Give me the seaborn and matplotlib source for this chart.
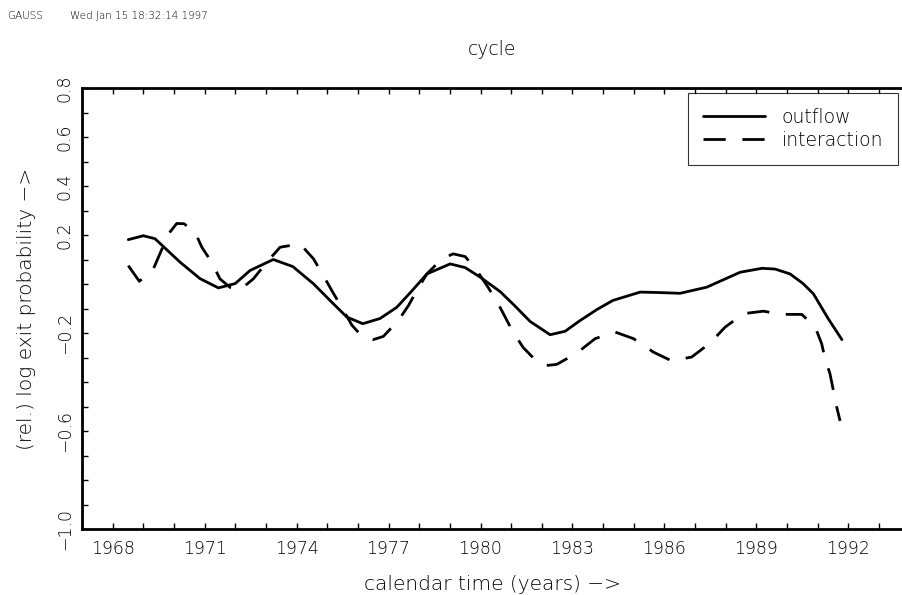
import pandas as pd
import matplotlib
matplotlib.use("Agg")
import matplotlib.pyplot as plt
import seaborn as sns

# outflow series
outflow_year = [1968.51, 1969.00, 1969.38, 1970.20, 1970.85, 1971.45, 1972.00, 1972.48,
                1973.24, 1973.88, 1974.55, 1975.09, 1975.64, 1976.16, 1976.72, 1977.27,
                1977.77, 1978.25, 1979.01, 1979.50, 1979.99, 1980.64, 1981.07, 1981.62,
                1982.27, 1982.76, 1983.25, 1983.80, 1984.32, 1985.21, 1985.86, 1986.51,
                1987.38, 1988.47, 1989.18, 1989.61, 1990.10, 1990.52, 1990.86, 1991.34,
                1991.79]
outflow_val = [0.181, 0.197, 0.185, 0.089, 0.022, -0.016, 0.002, 0.055,
               0.100, 0.071, 0.001, -0.067, -0.135, -0.162, -0.141, -0.095,
               -0.027, 0.041, 0.082, 0.067, 0.028, -0.031, -0.083, -0.153,
               -0.207, -0.193, -0.149, -0.104, -0.067, -0.033, -0.035, -0.038,
               -0.013, 0.048, 0.064, 0.061, 0.041, 0.002, -0.040, -0.141,
               -0.227]

# interaction series
inter_year = [1968.51, 1968.87, 1969.33, 1969.54, 1969.82, 1970.09, 1970.33, 1970.69,
              1970.91, 1971.23, 1971.50, 1971.83, 1972.15, 1972.59, 1973.03, 1973.46,
              1974.11, 1974.55, 1974.87, 1975.15, 1975.47, 1975.81, 1976.14, 1976.50,
              1976.83, 1977.32, 1977.65, 1977.92, 1978.25, 1978.74, 1979.11, 1979.50,
              1979.88, 1980.25, 1980.57, 1981.03, 1981.39, 1981.89, 1982.21, 1982.49,
              1983.14, 1983.74, 1984.39, 1984.99, 1985.64, 1986.24, 1986.89, 1987.49,
              1987.98, 1988.58, 1989.23, 1989.83, 1990.48, 1990.92, 1991.13, 1991.24,
              1991.40, 1991.51, 1991.62, 1991.73]
inter_val = [0.075, 0.011, 0.062, 0.123, 0.204, 0.247, 0.246, 0.211,
             0.150, 0.089, 0.021, -0.014, -0.024, 0.021, 0.089, 0.150,
             0.164, 0.103, 0.035, -0.027, -0.095, -0.169, -0.214, -0.227,
             -0.214, -0.149, -0.088, -0.027, 0.041, 0.103, 0.123, 0.112,
             0.055, -0.014, -0.079, -0.189, -0.259, -0.323, -0.332, -0.328,
             -0.282, -0.223, -0.196, -0.223, -0.278, -0.314, -0.298, -0.241,
             -0.176, -0.121, -0.111, -0.124, -0.124, -0.176, -0.244, -0.305,
             -0.366, -0.434, -0.502, -0.559]

x_labels = ['1968', '1971', '1974', '1977', '1980', '1983', '1986', '1989', '1992']
x_label_pos = [1968, 1971, 1974, 1977, 1980, 1983, 1986, 1989, 1992]
y_label_pos = [0.8, 0.6, 0.4, 0.2, -0.2, -0.6, -1.0]
y_labels = ['0.8', '0.6', '0.4', '0.2', '\u22120.2', '\u22120.6', '\u22121.0']

df_out = pd.DataFrame({'year': outflow_year, 'value': outflow_val})
df_int = pd.DataFrame({'year': inter_year, 'value': inter_val})

sns.set_theme(style="white")
plt.rcParams['font.family'] = ['DejaVu Sans']
plt.rcParams['font.weight'] = 'light'
plt.rcParams['text.color'] = 'black'
plt.rcParams['axes.labelcolor'] = 'black'
plt.rcParams['xtick.color'] = 'black'
plt.rcParams['ytick.color'] = 'black'

fig = plt.figure(figsize=(9.02, 5.95), dpi=100)
ax = fig.add_axes([82 / 902, 1 - 529 / 595, 820 / 902, 441 / 595])

sns.lineplot(data=df_out, x='year', y='value', ax=ax, color='black',
             linewidth=2.0, label='outflow', sort=False)
sns.lineplot(data=df_int, x='year', y='value', ax=ax, color='black',
             linewidth=2.0, linestyle=(0, (8, 6)), label='interaction', sort=False)

ax.set_xlim(1967, 1993.75)
ax.set_ylim(-1.0, 0.8)

ax.set_xticks(x_label_pos)
ax.set_xticklabels(x_labels)
ax.set_xticks(list(range(1967, 1994)), minor=True)
ax.set_yticks(y_label_pos)
ax.set_yticklabels(y_labels, rotation=90, va='center')
ax.set_yticks([i / 10 for i in range(-10, 9)], minor=True)

for s in ['left', 'bottom', 'top']:
    ax.spines[s].set_linewidth(2.0)
    ax.spines[s].set_color('black')
ax.spines['right'].set_visible(False)

ax.tick_params(which='both', direction='in', length=4.5, width=1.0, color='black',
               top=True, bottom=True, left=True, right=False)
ax.tick_params(axis='x', which='major', labelsize=12.5, pad=8)
ax.tick_params(axis='y', which='major', labelsize=12.5, pad=6)

ax.set_title('cycle', fontsize=13.5, pad=24, fontweight='light')
ax.set_xlabel('calendar time (years) \u2212>', fontsize=14.5, labelpad=12, fontweight='light')
ax.set_ylabel('(rel.) log exit probability \u2212>', fontsize=14.5, labelpad=14, fontweight='light')

leg = ax.legend(loc='upper left', bbox_to_anchor=(0.739, 0.989), borderaxespad=0,
                fontsize=13.5, frameon=True, fancybox=False, edgecolor='black',
                handlelength=3.3, handletextpad=0.9, borderpad=0.8, labelspacing=0.2)
leg.get_frame().set_linewidth(0.8)

fig.text(7 / 902, 1 - 16 / 595, 'GAUSS', fontsize=7.5, va='center')
fig.text(70 / 902, 1 - 16 / 595, 'Wed Jan 15 18:32:14 1997', fontsize=7.5, va='center')

fig.savefig('out.png', dpi=100)
